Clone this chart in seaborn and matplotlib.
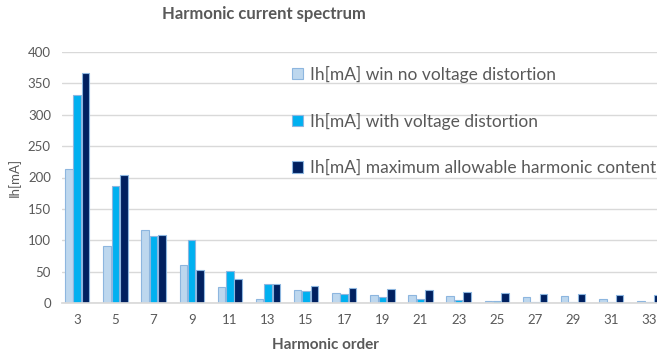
import matplotlib
matplotlib.use("Agg")
import matplotlib.pyplot as plt
import seaborn as sns
import pandas as pd

orders = ["3", "5", "7", "9", "11", "13", "15", "17", "19", "21", "23", "25", "27", "29", "31", "33"]
no_distortion = [213, 91, 117, 60, 25, 6, 21, 16, 13, 13, 11, 3, 10, 11, 6, 3]
with_distortion = [332, 186, 106, 101, 51, 30, 19, 14, 10, 6, 4, 3, 2, 2, 2, 2]
max_allowable = [366, 204, 108, 53, 38, 30, 27, 24, 22, 20, 18, 16, 14, 14, 12, 12]
series_names = ["Ih[mA] win no voltage distortion",
                "Ih[mA] with voltage distortion",
                "Ih[mA] maximum allowable harmonic content"]
colors = ["#BDD7EE", "#00B0F0", "#002060"]

rows = []
for name, vals in zip(series_names, [no_distortion, with_distortion, max_allowable]):
    for o, v in zip(orders, vals):
        rows.append({"order": o, "value": v, "series": name})
df = pd.DataFrame(rows)

sns.set_theme(style="white")
plt.rcParams['font.family'] = ['Lato', 'DejaVu Sans']
text_col = "#595959"

fig = plt.figure(figsize=(6.57, 3.62), dpi=100)
ax = fig.add_axes([62/657, 59/362, 595/657, 251/362])

sns.barplot(data=df, x="order", y="value", hue="series", order=orders,
            hue_order=series_names, palette=colors, saturation=1, width=0.66, gap=0.1,
            edgecolor="#8DB6DF", linewidth=0.8, ax=ax, legend=True)

ax.set_ylim(0, 400)
ax.set_yticks(range(0, 401, 50))
ax.set_xlim(-0.4, 15.2)
ax.yaxis.grid(True, color="#D9D9D9", linewidth=1)
ax.set_axisbelow(True)
for s in ["top", "right", "left"]:
    ax.spines[s].set_visible(False)
ax.spines["bottom"].set_color("#D9D9D9")
ax.tick_params(axis="both", length=0, labelsize=9.5, colors=text_col, pad=8)
ax.set_xlabel("Harmonic order", fontsize=11, fontweight="bold", color=text_col)
ax.xaxis.set_label_coords((325 - 62) / 595, -35 / 251)
ax.set_ylabel("Ih[mA]", fontsize=9.5, color=text_col, labelpad=5)

leg = ax.legend(loc="upper left", bbox_to_anchor=(0.387, 0.945), frameon=False,
                fontsize=12.5, labelspacing=1.73, handlelength=0.62, handleheight=0.62,
                handletextpad=0.4, borderaxespad=0, borderpad=0)
for t in leg.get_texts():
    t.set_color(text_col)

fig.text(264/657, 1 - 14/362, "Harmonic current spectrum", ha="center", va="center",
         fontsize=12, fontweight="bold", color=text_col)

fig.savefig("out.png", dpi=100)
